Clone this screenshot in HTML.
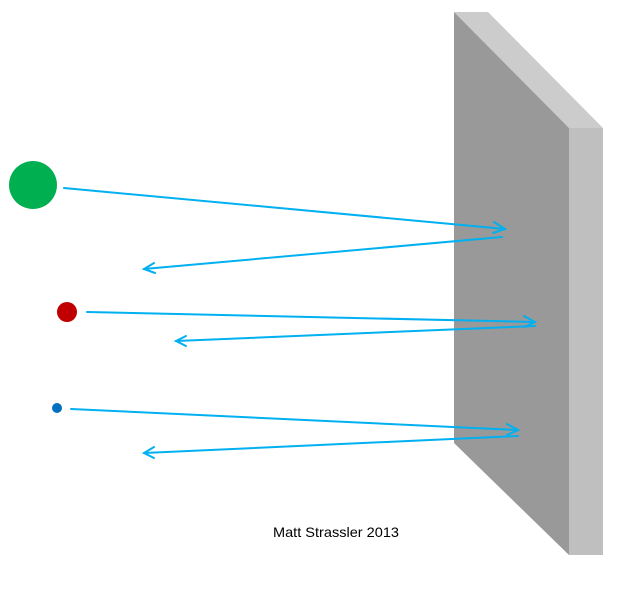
<!DOCTYPE html>
<html><head><style>body{margin:0;background:#fff}</style></head><body>
<svg width="632" height="584" xmlns="http://www.w3.org/2000/svg">
<polygon points="454,12 488,12 603,128 569,128" fill="#cccccc"/>
<polygon points="454,12 569,128 569,555 454,443" fill="#999999"/>
<polygon points="569,128 603,128 603,555 569,555" fill="#bfbfbf"/>
<circle cx="33" cy="185" r="24" fill="#00b050"/>
<circle cx="67" cy="312" r="10" fill="#c00000"/>
<circle cx="57" cy="408" r="5" fill="#0070c0"/>
<g stroke="#00b0f0" stroke-width="2" fill="none" stroke-linecap="round">
<line x1="64" y1="188" x2="505" y2="229"/><polyline points="494,222 505,229 493,233"/>
<line x1="502" y1="237" x2="144" y2="269"/><polyline points="154,263 144,269 155,273"/>
<line x1="87" y1="312" x2="535" y2="322"/><polyline points="524,316 535,322 524,327"/>
<line x1="535" y1="326" x2="176" y2="341"/><polyline points="186,336 176,341 186,346"/>
<line x1="71" y1="409" x2="518" y2="430"/><polyline points="507,424 518,430 507,435"/>
<line x1="518" y1="436" x2="144" y2="453"/><polyline points="154,447 144,453 154,458"/>
</g>
<text x="273" y="537" font-family="Liberation Sans, sans-serif" font-size="14" textLength="126" lengthAdjust="spacingAndGlyphs" fill="#000">Matt Strassler 2013</text>
</svg>
</body></html>
